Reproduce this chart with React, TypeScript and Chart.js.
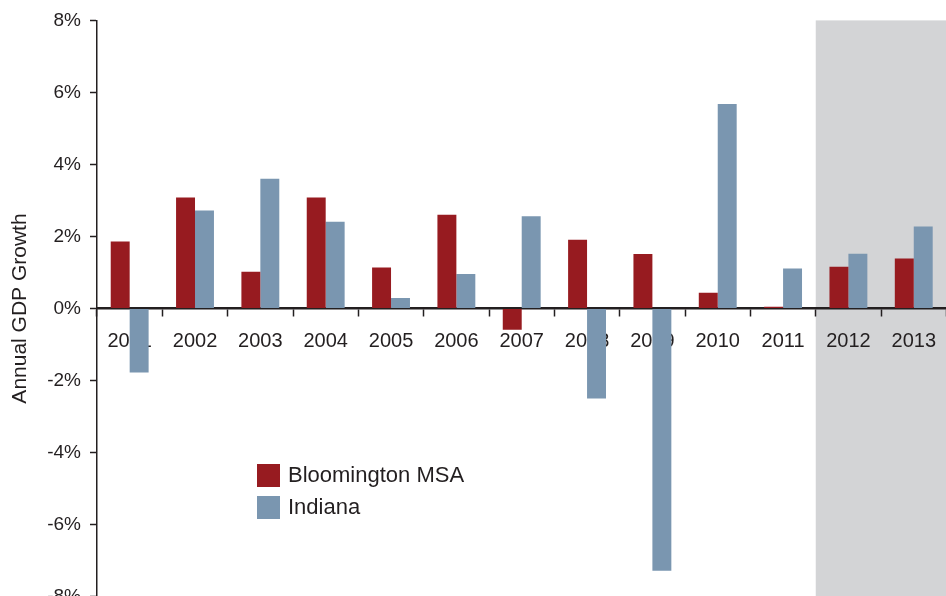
import React, { useEffect, useRef } from "react";
import { Chart, registerables } from "chart.js";

Chart.register(...registerables);

const years = ["2001", "2002", "2003", "2004", "2005", "2006", "2007", "2008", "2009", "2010", "2011", "2012", "2013"];
const bloomington = [1.86, 3.08, 1.02, 3.08, 1.14, 2.6, -0.59, 1.91, 1.51, 0.44, 0.05, 1.16, 1.39];
const indiana = [-1.78, 2.72, 3.6, 2.41, 0.29, 0.96, 2.56, -2.5, -7.28, 5.68, 1.11, 1.52, 2.28];
const seriesNames = ["Bloomington MSA", "Indiana"];
const shadedFromIndex = 11; // forecast years 2012-2013
const yMin = -8;
const yMax = 8;
const yStep = 2;
const yTitle = "Annual GDP Growth";

const RED = "#971B20";
const BLUE = "#7A96B0";
const SHADE = "#D3D4D6";
const INK = "#231F20";
const FONT = "'Liberation Sans', Arial, sans-serif";

const shadePlugin = {
  id: "shade",
  beforeDraw(chart: any) {
    const { ctx, chartArea, scales } = chart;
    const x0 = scales.x.getPixelForValue(shadedFromIndex - 0.5);
    ctx.save();
    ctx.fillStyle = SHADE;
    ctx.fillRect(x0, chartArea.top, chart.width - x0, chart.height - chartArea.top);
    ctx.restore();
  },
};

const legendPlugin = {
  id: "insideLegend",
  afterDraw(chart: any) {
    const { ctx } = chart;
    const x = 257;
    const y0 = 464;
    const gap = 32;
    ctx.save();
    ctx.font = `22px ${FONT}`;
    ctx.textBaseline = "middle";
    chart.data.datasets.forEach((ds: any, i: number) => {
      const y = y0 + i * gap;
      ctx.fillStyle = ds.backgroundColor;
      ctx.fillRect(x, y, 23, 23);
      ctx.fillStyle = INK;
      ctx.fillText(ds.label, x + 31, y + 12);
    });
    ctx.restore();
  },
};

export default function App() {
  const ref = useRef<HTMLCanvasElement>(null);
  useEffect(() => {
    if (!ref.current) return;
    const chart = new Chart(ref.current, {
      type: "bar",
      data: {
        labels: years,
        datasets: [
          { label: seriesNames[0], data: bloomington, backgroundColor: RED },
          { label: seriesNames[1], data: indiana, backgroundColor: BLUE },
        ],
      },
      options: {
        responsive: false,
        animation: false,
        layout: { padding: { top: 20, bottom: 16, left: 0, right: 0 } },
        datasets: {
          bar: { categoryPercentage: 0.58, barPercentage: 1.0 },
        },
        plugins: {
          legend: { display: false },
          tooltip: { enabled: false },
        },
        scales: {
          x: {
            position: { y: 0 } as any,
            grid: {
              display: true,
              drawOnChartArea: false,
              drawTicks: true,
              tickLength: 7,
              tickWidth: 1.5,
              tickColor: INK,
              offset: true,
            },
            border: { display: true, color: INK, width: 2.5 },
            ticks: {
              color: INK,
              font: { family: FONT, size: 20 },
              padding: 14,
              maxRotation: 0,
              autoSkip: false,
            },
          },
          y: {
            min: yMin,
            max: yMax,
            afterFit(scale: any) {
              scale.width = 97;
            },
            ticks: {
              stepSize: yStep,
              color: INK,
              font: { family: FONT, size: 19 },
              padding: 9,
              callback: (v: any) => `${v}%`,
            },
            grid: {
              display: true,
              drawOnChartArea: false,
              drawTicks: true,
              tickLength: 7,
              tickWidth: 1.5,
              tickColor: INK,
            },
            border: { display: true, color: INK, width: 1.5 },
            title: {
              display: true,
              text: yTitle,
              color: INK,
              font: { family: FONT, size: 21 },
              padding: { top: 8, bottom: 0 },
            },
          },
        },
      },
      plugins: [shadePlugin, legendPlugin],
    });
    return () => chart.destroy();
  }, []);
  return (
    <div style={{ position: "absolute", left: 0, top: 0, width: 946, height: 617, background: "#fff", overflow: "hidden" }}>
      <canvas ref={ref} width={950} height={617} />
    </div>
  );
}
